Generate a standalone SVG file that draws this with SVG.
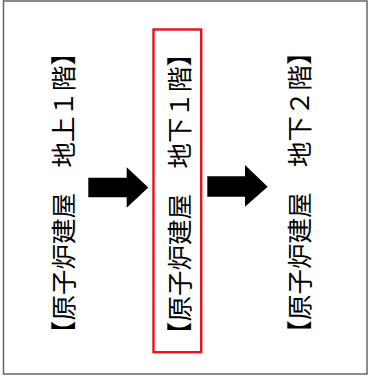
<svg xmlns="http://www.w3.org/2000/svg" width="371" height="378" viewBox="0 0 371 378">
  <style>
    .lbl { font-family: "Noto Sans CJK JP", "Noto Sans CJK SC", sans-serif; font-size: 25.5px; fill: #000; text-anchor: middle; dominant-baseline: central; }
    .arrow { fill: #000; }
  </style>
  <rect x="0" y="0" width="371" height="378" fill="#fff"/>
  <rect id="frame" x="3.5" y="1" width="363.5" height="373" fill="none" stroke="#666" stroke-width="1.5"/>
  <g id="connectors">
    <polygon class="arrow" points="88.3,177.7 126.7,177.7 126.7,167.3 148.3,187.5 126.7,207.7 126.7,197.3 88.3,197.3"/>
    <polygon class="arrow" points="207.3,176.2 245,176.2 245,165 267.7,186.7 245,206.7 245,196.7 207.3,196.7"/>
  </g>
  <g id="node-b1f1">
    <text class="lbl" transform="translate(61.5,193) rotate(-90)">【原子炉建屋　地上１階】</text>
  </g>
  <g id="node-b1">
    <rect x="153.5" y="29.5" width="47.7" height="322.7" fill="none" stroke="#e8121b" stroke-width="2.4"/>
    <text class="lbl" transform="translate(177.5,194) rotate(-90)">【原子炉建屋　地下１階】</text>
  </g>
  <g id="node-b2">
    <text class="lbl" transform="translate(297.5,192.5) rotate(-90)">【原子炉建屋　地下２階】</text>
  </g>
</svg>
